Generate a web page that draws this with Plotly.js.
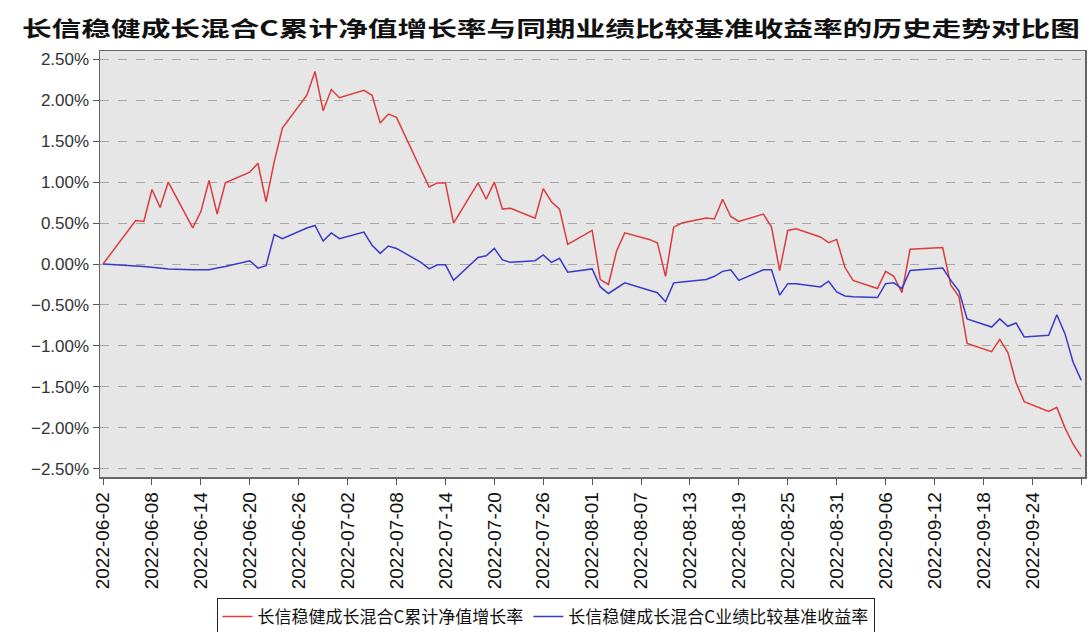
<!DOCTYPE html>
<html>
<head>
<meta charset="utf-8">
<script src="https://cdn.plot.ly/plotly-3.0.1.min.js"></script>
<style>html,body{margin:0;padding:0;background:#fff;}</style>
</head>
<body>
<div id="chart" style="width:1091px;height:632px;"></div>
<script>
const chartTitle = '长信稳健成长混合C累计净值增长率与同期业绩比较基准收益率的历史走势对比图';
const seriesNames = ['长信稳健成长混合C累计净值增长率', '长信稳健成长混合C业绩比较基准收益率'];

const dates = [
  '2022-06-02','2022-06-06','2022-06-07','2022-06-08','2022-06-09','2022-06-10',
  '2022-06-13','2022-06-14','2022-06-15','2022-06-16','2022-06-17',
  '2022-06-20','2022-06-21','2022-06-22','2022-06-23','2022-06-24',
  '2022-06-27','2022-06-28','2022-06-29','2022-06-30','2022-07-01',
  '2022-07-04','2022-07-05','2022-07-06','2022-07-07','2022-07-08',
  '2022-07-11','2022-07-12','2022-07-13','2022-07-14','2022-07-15',
  '2022-07-18','2022-07-19','2022-07-20','2022-07-21','2022-07-22',
  '2022-07-25','2022-07-26','2022-07-27','2022-07-28','2022-07-29',
  '2022-08-01','2022-08-02','2022-08-03','2022-08-04','2022-08-05',
  '2022-08-08','2022-08-09','2022-08-10','2022-08-11','2022-08-12',
  '2022-08-15','2022-08-16','2022-08-17','2022-08-18','2022-08-19',
  '2022-08-22','2022-08-23','2022-08-24','2022-08-25','2022-08-26',
  '2022-08-29','2022-08-30','2022-08-31','2022-09-01','2022-09-02',
  '2022-09-05','2022-09-06','2022-09-07','2022-09-08','2022-09-09',
  '2022-09-13','2022-09-14','2022-09-15','2022-09-16',
  '2022-09-19','2022-09-20','2022-09-21','2022-09-22','2022-09-23',
  '2022-09-26','2022-09-27','2022-09-28','2022-09-29','2022-09-30'
];

// 累计净值增长率 (%)
const fundReturn = [
  0.00, 0.53, 0.52, 0.91, 0.69, 1.00,
  0.44, 0.64, 1.02, 0.61, 0.99,
  1.12, 1.23, 0.76, 1.25, 1.66,
  2.06, 2.35, 1.87, 2.13, 2.03,
  2.12, 2.06, 1.72, 1.83, 1.79,
  1.15, 0.94, 0.99, 0.99, 0.50,
  0.99, 0.79, 1.00, 0.67, 0.68,
  0.56, 0.92, 0.76, 0.67, 0.24,
  0.41, -0.19, -0.25, 0.16, 0.38,
  0.30, 0.26, -0.15, 0.45, 0.50,
  0.56, 0.55, 0.79, 0.58, 0.52,
  0.61, 0.45, -0.08, 0.41, 0.43,
  0.33, 0.26, 0.30, -0.04, -0.20,
  -0.30, -0.09, -0.15, -0.35, 0.18,
  0.20, -0.26, -0.40, -0.97,
  -1.07, -0.92, -1.08, -1.45, -1.68,
  -1.80, -1.75, -2.00, -2.20, -2.35
];

// 业绩比较基准收益率 (%)
const benchReturn = [
  0.00, -0.02, -0.03, -0.04, -0.05, -0.06,
  -0.07, -0.07, -0.07, -0.05, -0.03,
  0.04, -0.05, -0.02, 0.36, 0.31,
  0.44, 0.47, 0.28, 0.38, 0.31,
  0.39, 0.23, 0.13, 0.22, 0.19,
  0.02, -0.06, -0.01, -0.01, -0.20,
  0.08, 0.10, 0.19, 0.05, 0.02,
  0.04, 0.11, 0.02, 0.07, -0.10,
  -0.06, -0.28, -0.36, -0.29, -0.23,
  -0.32, -0.35, -0.46, -0.23, -0.22,
  -0.19, -0.15, -0.09, -0.07, -0.20,
  -0.07, -0.07, -0.38, -0.24, -0.24,
  -0.28, -0.21, -0.34, -0.39, -0.40,
  -0.41, -0.24, -0.23, -0.30, -0.08,
  -0.05, -0.20, -0.33, -0.67,
  -0.77, -0.67, -0.76, -0.72, -0.89,
  -0.87, -0.62, -0.85, -1.20, -1.42
];

const yTickVals = [-2.5, -2.0, -1.5, -1.0, -0.5, 0.0, 0.5, 1.0, 1.5, 2.0, 2.5];
const yTickLabels = ['\u22122.50%', '\u22122.00%', '\u22121.50%', '\u22121.00%', '\u22120.50%',
                     '0.00%', '0.50%', '1.00%', '1.50%', '2.00%', '2.50%'];

const traces = [
  {x: dates, y: fundReturn, name: seriesNames[0], type: 'scatter', mode: 'lines',
   line: {color: '#dc3c3c', width: 1.5}},
  {x: dates, y: benchReturn, name: seriesNames[1], type: 'scatter', mode: 'lines',
   line: {color: '#3a3ac8', width: 1.5}}
];

const layout = {
  width: 1091, height: 632,
  margin: {l: 100, r: 6, t: 51, b: 155},
  paper_bgcolor: '#ffffff',
  plot_bgcolor: '#e6e6e6',
  title: {
    text: chartTitle,
    x: 0.505, xref: 'container', xanchor: 'center',
    y: 1 - 29/632, yref: 'container', yanchor: 'middle',
    font: {family: '"Noto Sans CJK SC", sans-serif', size: 21, color: '#111', weight: 'bold'}
  },
  xaxis: {
    type: 'date',
    range: ['2022-06-01 15:00', '2022-09-30 11:00'],
    tick0: '2022-06-02', dtick: 6 * 86400000,
    tickformat: '%Y-%m-%d', tickangle: -90,
    ticks: 'outside', ticklen: 6, tickcolor: '#555',
    showgrid: false, zeroline: false,
    showline: true, mirror: true, linecolor: '#666', linewidth: 1.5,
    tickfont: {family: '"Liberation Sans", Arial, sans-serif', size: 19, color: '#111'}
  },
  yaxis: {
    range: [-2.6, 2.6],
    tickmode: 'array', tickvals: yTickVals, ticktext: yTickLabels,
    ticks: 'outside', ticklen: 6, tickcolor: '#555',
    showgrid: true, gridcolor: '#a8a8a8', gridwidth: 1, griddash: 'dash',
    zeroline: false,
    showline: true, mirror: true, linecolor: '#666', linewidth: 1.5,
    tickfont: {family: '"Liberation Sans", Arial, sans-serif', size: 17, color: '#333'}
  },
  showlegend: true,
  legend: {
    orientation: 'h',
    x: 0.5, xref: 'container', xanchor: 'center',
    y: 1 - 598/632, yref: 'container', yanchor: 'top',
    bgcolor: '#ffffff', bordercolor: '#222', borderwidth: 1,
    font: {family: '"Noto Sans CJK SC", sans-serif', size: 17, color: '#111'}
  }
};

Plotly.newPlot('chart', traces, layout, {displayModeBar: false, staticPlot: true}).then(function () {
  const t = document.querySelector('.gtitle');
  if (t) {
    t.setAttribute('textLength', '1058');
    t.setAttribute('lengthAdjust', 'spacingAndGlyphs');
  }
});
</script>
</body>
</html>
